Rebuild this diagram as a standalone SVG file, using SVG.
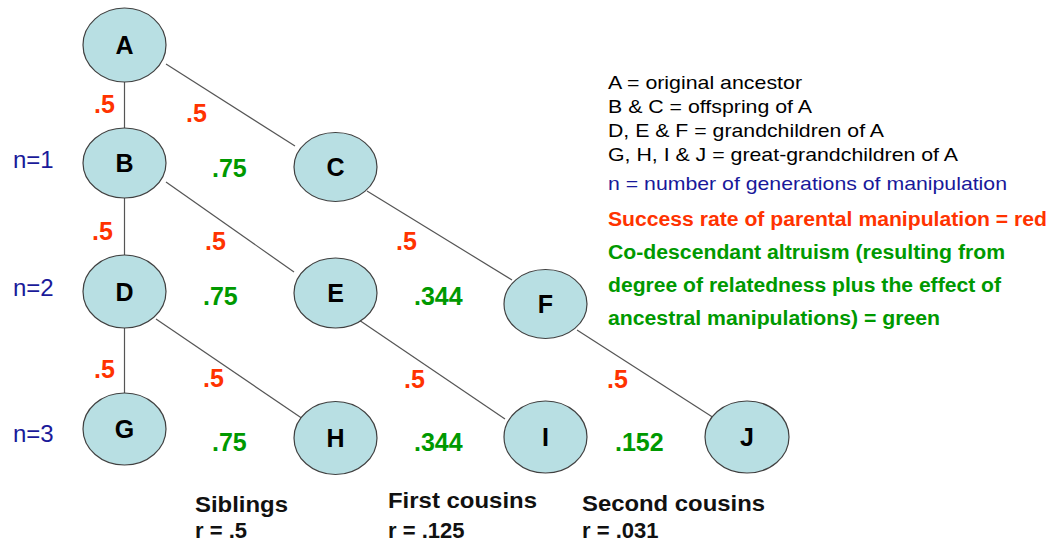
<svg xmlns="http://www.w3.org/2000/svg" width="1058" height="544" viewBox="0 0 1058 544">
  <style>
    .node ellipse { fill: #b8dfe3; stroke: #404040; stroke-width: 1.2; }
    .node text { font-family: "Liberation Sans", Arial, sans-serif; font-size: 25px; font-weight: bold; fill: #000; text-anchor: middle; }
    .links line { stroke: #555; stroke-width: 1.2; }
    .red { font-family: "Liberation Sans", Arial, sans-serif; font-size: 25px; font-weight: bold; fill: #ff3300; }
    .green { font-family: "Liberation Sans", Arial, sans-serif; font-size: 25px; font-weight: bold; fill: #009900; }
    .gen { font-family: "Liberation Sans", Arial, sans-serif; font-size: 24px; fill: #1a1a9a; }
    .key { font-family: "Liberation Sans", Arial, sans-serif; font-size: 19px; fill: #000; }
    .keyb { font-family: "Liberation Sans", Arial, sans-serif; font-size: 20px; font-weight: bold; }
    .rel { font-family: "Liberation Sans", Arial, sans-serif; font-size: 22px; font-weight: bold; fill: #111; }
  </style>

  <rect width="1058" height="544" fill="#fff"/>

  <!-- family-tree links -->
  <g id="connectors" class="links">
    <line x1="124.5" y1="82" x2="124.5" y2="128"/>
    <line x1="124.5" y1="198" x2="124.5" y2="255"/>
    <line x1="124.5" y1="328" x2="124.5" y2="393"/>
    <line x1="166" y1="64" x2="295" y2="146"/>
    <line x1="166" y1="182" x2="294" y2="272"/>
    <line x1="156" y1="319" x2="303" y2="419"/>
    <line x1="367" y1="191" x2="512" y2="280"/>
    <line x1="359" y1="320" x2="505" y2="419"/>
    <line x1="577" y1="330" x2="714" y2="418"/>
  </g>

  <!-- individuals -->
  <g id="node-A" class="node"><ellipse cx="124.5" cy="45" rx="41.5" ry="37"/><text x="124.5" y="54">A</text></g>
  <g id="node-B" class="node"><ellipse cx="124.5" cy="163" rx="41.5" ry="35"/><text x="124.5" y="172">B</text></g>
  <g id="node-C" class="node"><ellipse cx="335.5" cy="167" rx="41.5" ry="34.5"/><text x="335.5" y="176">C</text></g>
  <g id="node-D" class="node"><ellipse cx="124.5" cy="291.5" rx="41.5" ry="36.5"/><text x="124.5" y="300.5">D</text></g>
  <g id="node-E" class="node"><ellipse cx="335.5" cy="293" rx="41.5" ry="35"/><text x="335.5" y="302">E</text></g>
  <g id="node-F" class="node"><ellipse cx="545.5" cy="304" rx="41.5" ry="34.5"/><text x="545.5" y="313">F</text></g>
  <g id="node-G" class="node"><ellipse cx="124.5" cy="429" rx="41.5" ry="36"/><text x="124.5" y="438">G</text></g>
  <g id="node-H" class="node"><ellipse cx="335.5" cy="438" rx="41.5" ry="36.5"/><text x="335.5" y="447">H</text></g>
  <g id="node-I" class="node"><ellipse cx="545.5" cy="437" rx="41.5" ry="36"/><text x="545.5" y="446">I</text></g>
  <g id="node-J" class="node"><ellipse cx="747" cy="437" rx="42" ry="36"/><text x="747" y="446">J</text></g>

  <!-- generation labels -->
  <g id="generations" class="gen">
    <text x="13" y="168">n=1</text>
    <text x="13" y="296">n=2</text>
    <text x="13" y="442">n=3</text>
  </g>

  <!-- manipulation success rates -->
  <g id="rates" class="red">
    <text x="94" y="113">.5</text>
    <text x="186" y="122">.5</text>
    <text x="92" y="240">.5</text>
    <text x="205" y="250">.5</text>
    <text x="396" y="250">.5</text>
    <text x="94" y="378">.5</text>
    <text x="203" y="387">.5</text>
    <text x="404" y="388">.5</text>
    <text x="607" y="388">.5</text>
  </g>

  <!-- co-descendant altruism values -->
  <g id="altruism" class="green">
    <text x="212" y="177">.75</text>
    <text x="203" y="305">.75</text>
    <text x="414" y="305">.344</text>
    <text x="212" y="451">.75</text>
    <text x="414" y="451">.344</text>
    <text x="615" y="451">.152</text>
  </g>

  <!-- key -->
  <g id="key">
    <text class="key" x="608" y="89" textLength="194" lengthAdjust="spacingAndGlyphs">A = original ancestor</text>
    <text class="key" x="608" y="113" textLength="204" lengthAdjust="spacingAndGlyphs">B &amp; C = offspring of A</text>
    <text class="key" x="608" y="137" textLength="276" lengthAdjust="spacingAndGlyphs">D, E &amp; F = grandchildren of A</text>
    <text class="key" x="608" y="161" textLength="350" lengthAdjust="spacingAndGlyphs">G, H, I &amp; J = great-grandchildren of A</text>
    <text class="key" x="608" y="190" style="fill:#18189a" textLength="399" lengthAdjust="spacingAndGlyphs">n = number of generations of manipulation</text>
    <text class="keyb" x="608" y="226" fill="#ff3300" textLength="439" lengthAdjust="spacingAndGlyphs">Success rate of parental manipulation = red</text>
    <text class="keyb" x="608" y="259" fill="#009900" textLength="397" lengthAdjust="spacingAndGlyphs">Co-descendant altruism (resulting from</text>
    <text class="keyb" x="608" y="292" fill="#009900" textLength="393" lengthAdjust="spacingAndGlyphs">degree of relatedness plus the effect of</text>
    <text class="keyb" x="608" y="325" fill="#009900" textLength="332" lengthAdjust="spacingAndGlyphs">ancestral manipulations) = green</text>
  </g>

  <!-- relatedness of cousins -->
  <g id="relatedness" class="rel">
    <text x="195" y="512" textLength="93" lengthAdjust="spacingAndGlyphs">Siblings</text>
    <text x="195" y="538">r = .5</text>
    <text x="388" y="508" textLength="149" lengthAdjust="spacingAndGlyphs">First cousins</text>
    <text x="388" y="538">r = .125</text>
    <text x="582" y="511" textLength="183" lengthAdjust="spacingAndGlyphs">Second cousins</text>
    <text x="582" y="538">r = .031</text>
  </g>
</svg>
